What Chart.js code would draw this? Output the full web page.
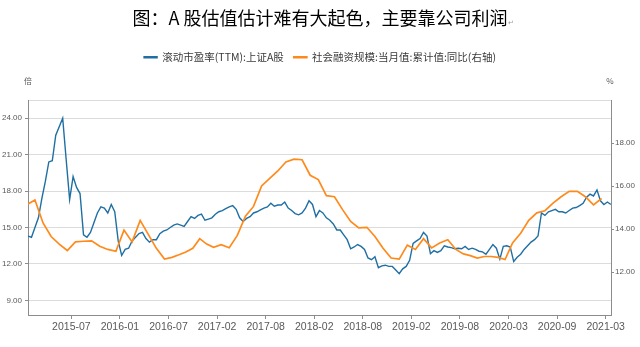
<!DOCTYPE html>
<html>
<head>
<meta charset="utf-8">
<script src="https://cdn.jsdelivr.net/npm/chart.js@4.4.1/dist/chart.umd.min.js"></script>
<style>
  html, body { margin: 0; padding: 0; background: #fff; }
  canvas { display: block; }
</style>
</head>
<body>
<canvas id="grafico" width="640" height="347"></canvas>
<script>
// Rótulos do eixo x (espaçados igualmente, como no original)
const tickLabels = ['2015-07', '2016-01', '2016-07', '2017-02', '2017-08', '2018-02',
  '2018-08', '2019-02', '2019-08', '2020-03', '2020-09', '2021-03'];

// Ticks dos eixos y
const leftTicks = [9, 12, 15, 18, 21, 24];
const rightTicks = [12, 14, 16, 18];

// 滚动市盈率(TTM):上证A股 — amostras
const peValues = [
  14.3, 14.2, 15.0, 15.8, 17.4, 18.8, 20.4, 20.5, 22.6, 23.3, 24.0, 20.6, 17.3, 19.2, 18.3, 17.8, 14.4, 14.2, 14.6, 15.4,
  16.2, 16.7, 16.6, 16.2, 16.9, 16.3, 13.9, 12.7, 13.2, 13.3, 13.9, 14.2, 14.5, 14.6, 14.1, 13.8, 14.0, 14.0, 14.5, 14.7,
  14.8, 15.0, 15.2, 15.3, 15.2, 15.1, 15.5, 15.9, 15.75, 16.0, 16.1, 15.6, 15.7, 15.8, 16.1, 16.3, 16.4, 16.55, 16.7, 16.8,
  16.5, 15.8, 15.5, 15.75, 15.9, 16.2, 16.3, 16.45, 16.6, 16.7, 17.0, 16.75, 16.85, 16.85, 17.1, 16.6, 16.4, 16.15, 16.05, 16.2,
  16.6, 17.2, 16.9, 15.9, 16.4, 16.2, 15.8, 15.6, 15.3, 14.8, 14.8, 14.4, 14.0, 13.25, 13.4, 13.6, 13.45, 13.2, 12.5, 12.35,
  12.6, 11.7, 11.85, 11.9, 11.8, 11.8, 11.5, 11.2, 11.6, 11.8, 12.3, 13.7, 13.9, 14.1, 14.6, 14.3, 12.85, 13.1, 12.95, 13.1,
  13.5, 13.4, 13.35, 13.25, 13.3, 13.25, 13.45, 13.2, 13.3, 13.2, 13.05, 13.0, 12.8, 13.2, 13.6, 13.3, 12.4, 13.45, 13.5, 13.4,
  12.2, 12.55, 12.8, 13.2, 13.5, 13.8, 14.0, 14.3, 16.2, 16.0, 16.3, 16.4, 16.5, 16.3, 16.3, 16.2, 16.4, 16.6, 16.65, 16.8,
  17.0, 17.5, 17.75, 17.6, 18.1, 17.2, 16.9, 17.1, 16.9
];

// 社会融资规模:当月值:累计值:同比 — mensal, de 2015-01 a 2021-02
const tsfStart = '2015-01';
const tsfValues = [
  15.13, 15.35, 14.28, 13.65, 13.3, 13.0, 13.4, 13.43, 13.45, 13.2, 13.05, 12.96,
  13.95, 13.4, 14.4, 13.75, 13.1, 12.6, 12.68, 12.8, 12.93, 13.1, 13.55, 13.3,
  13.15, 13.27, 13.13, 13.7, 14.6, 15.05, 16.0, 16.35, 16.7, 17.12, 17.25, 17.22,
  16.5, 16.3, 15.55, 15.5, 14.9, 14.35, 14.05, 14.08, 13.65, 13.1, 12.65, 12.6,
  13.25, 13.05, 13.55, 13.12, 13.35, 13.5, 13.05, 12.84, 12.76, 12.65, 12.72, 12.72,
  12.68, 12.58, 13.35, 13.8, 14.4, 14.75, 14.85, 15.2, 15.5, 15.75, 15.75, 15.5,
  15.12, 15.42
];

const fonte = "'Liberation Sans', Arial, sans-serif";
const fonteCJK = "'Noto Sans CJK SC', 'Noto Sans', sans-serif";
const xMin = 0.107, xMax = 12.11;
const peStep = 1 / 14;

function mesIndice(s) {
  const [a, m] = s.split('-').map(Number);
  return (a - 2015) * 12 + (m - 1);
}

// posição no eixo x a partir do mês (interpolando entre os rótulos)
const ancoras = tickLabels.map(l => mesIndice(l) + 0.5);
function mesParaX(t) {
  let k = 0;
  while (k < ancoras.length - 2 && t > ancoras[k + 1]) k++;
  return k + 1 + (t - ancoras[k]) / (ancoras[k + 1] - ancoras[k]);
}

const pePontos = peValues.map((v, i) => ({ x: xMin + i * peStep, y: v }));
const tsfPontos = tsfValues.map((v, i) => ({ x: mesParaX(mesIndice(tsfStart) + i + 1), y: v }));

// unidades "倍" e "%" acima dos eixos, e a marca ↵ do título
const unidades = {
  id: 'unidades',
  afterDraw(chart) {
    const { ctx, chartArea } = chart;
    ctx.save();
    ctx.fillStyle = '#595959';
    ctx.font = '8px ' + fonteCJK;
    ctx.textAlign = 'center';
    ctx.textBaseline = 'middle';
    ctx.fillText('倍', chartArea.left, chartArea.top - 19);
    ctx.fillText('%', chartArea.right - 1, chartArea.top - 19);
    const tb = chart.titleBlock;
    if (tb) {
      ctx.font = '18px ' + fonteCJK;
      const w = ctx.measureText(chart.options.plugins.title.text).width;
      ctx.font = '7px ' + fonteCJK;
      ctx.fillStyle = '#9a9a9a';
      ctx.textAlign = 'left';
      ctx.fillText('↵', (tb.left + tb.right) / 2 + w / 2 + 1, tb.top + 22);
    }
    ctx.restore();
  }
};

const ctx = document.getElementById('grafico').getContext('2d');
new Chart(ctx, {
  type: 'line',
  data: {
    datasets: [
      {
        label: '滚动市盈率(TTM):上证A股',
        data: pePontos,
        yAxisID: 'y',
        borderColor: '#1f6fa3',
        backgroundColor: '#1f6fa3',
        borderWidth: 1.4,
        pointRadius: 0,
        order: 1
      },
      {
        label: '社会融资规模:当月值:累计值:同比(右轴)',
        data: tsfPontos,
        yAxisID: 'y1',
        borderColor: '#ff8a1c',
        backgroundColor: '#ff8a1c',
        borderWidth: 1.7,
        pointRadius: 0,
        order: 0
      }
    ]
  },
  options: {
    responsive: false,
    animation: false,
    devicePixelRatio: 1,
    layout: { padding: 0 },
    plugins: {
      title: {
        display: true,
        text: '图：A 股估值估计难有大起色，主要靠公司利润',
        color: '#000',
        font: { size: 18, family: fonteCJK, weight: 'normal' },
        padding: { top: 7, bottom: 13.4 }
      },
      legend: {
        display: true,
        labels: {
          color: '#3a3a3a',
          font: { size: 10.5, family: fonteCJK },
          boxWidth: 13,
          boxHeight: 1,
          padding: 10,
          sort: (a, b) => a.datasetIndex - b.datasetIndex
        }
      },
      subtitle: {
        display: true,
        text: ' ',
        weight: 500,
        font: { size: 10, lineHeight: 1 },
        padding: { top: 0, bottom: 17.5 }
      },
      tooltip: { enabled: false }
    },
    scales: {
      x: {
        type: 'linear',
        min: xMin,
        max: xMax,
        afterBuildTicks: s => { s.ticks = tickLabels.map((_, i) => ({ value: i + 1 })); },
        afterFit: s => { s.height = 32; },
        ticks: {
          autoSkip: false,
          maxRotation: 0,
          padding: 2,
          color: '#595959',
          font: { size: 10.5, family: fonte },
          callback: v => tickLabels[v - 1]
        },
        grid: { drawOnChartArea: false, tickLength: 4, tickColor: '#8c8c8c' },
        border: { color: '#8c8c8c' }
      },
      y: {
        position: 'left',
        min: 7.8,
        max: 25.5,
        afterBuildTicks: s => { s.ticks = leftTicks.concat([25.5]).map(v => ({ value: v })); },
        afterFit: s => { s.width = 28; },
        ticks: {
          padding: 3,
          color: '#595959',
          font: { size: 8, family: fonte },
          callback: v => (v === 25.5 ? '' : v.toFixed(2))
        },
        grid: {
          color: '#dcdcdc',
          tickLength: 3,
          tickColor: c => (c.tick && c.tick.value === 25.5 ? 'rgba(0,0,0,0)' : '#8c8c8c')
        },
        border: { color: '#8c8c8c' }
      },
      y1: {
        position: 'right',
        min: 10,
        max: 20,
        afterBuildTicks: s => { s.ticks = rightTicks.map(v => ({ value: v })); },
        afterFit: s => { s.width = 29; },
        ticks: {
          padding: 1,
          color: '#595959',
          font: { size: 8, family: fonte },
          callback: v => v.toFixed(2)
        },
        grid: { drawOnChartArea: false, tickLength: 3, tickColor: '#8c8c8c' },
        border: { color: '#8c8c8c' }
      }
    }
  },
  plugins: [unidades]
});
</script>
</body>
</html>
